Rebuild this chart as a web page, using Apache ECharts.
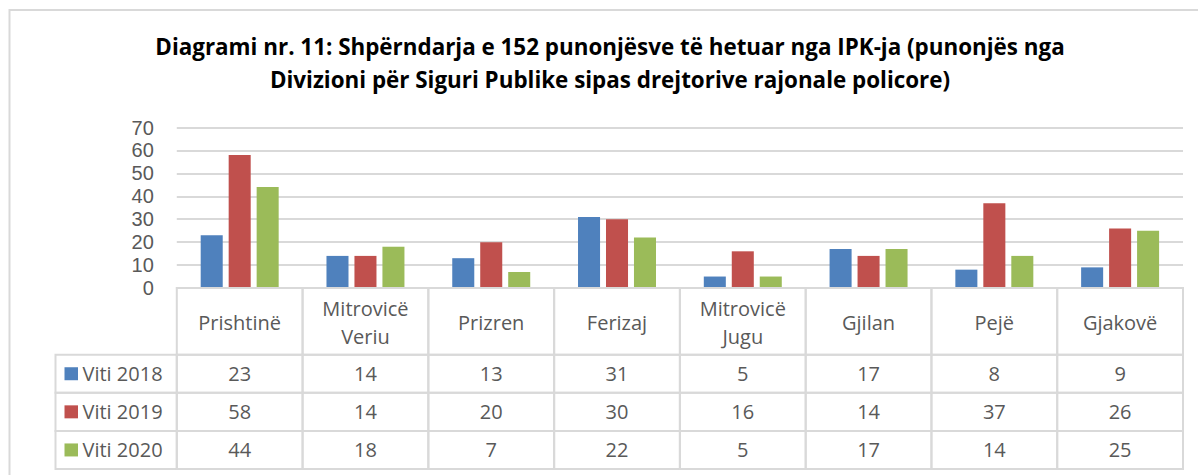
<!DOCTYPE html>
<html>
<head>
<meta charset="utf-8">
<script src="https://cdn.jsdelivr.net/npm/echarts@6/dist/echarts.min.js"></script>
<style>
html,body{margin:0;padding:0;background:#fff;}
#chart{width:1198px;height:475px;}
</style>
</head>
<body>
<div id="chart"></div>
<script>
// ---- data ----
const titleText = 'Diagrami nr. 11: Shpërndarja e 152 punonjësve të hetuar nga IPK-ja (punonjës nga\nDivizioni për Siguri Publike sipas drejtorive rajonale policore)';
const categories = ['Prishtinë', 'Mitrovicë\nVeriu', 'Prizren', 'Ferizaj', 'Mitrovicë\nJugu', 'Gjilan', 'Pejë', 'Gjakovë'];
const seriesNames = ['Viti 2018', 'Viti 2019', 'Viti 2020'];
const viti2018 = [23, 14, 13, 31, 5, 17, 8, 9];
const viti2019 = [58, 14, 20, 30, 16, 14, 37, 26];
const viti2020 = [44, 18, 7, 22, 5, 17, 14, 25];
const yMin = 0, yMax = 70, yStep = 10;

// ---- styling ----
const colors = ['#4F81BD', '#C0504D', '#9BBB59'];
const seriesValues = [viti2018, viti2019, viti2020];
const gridColor = '#D9D9D9';
const textColor = '#595959';
const FONT = '"Open Sans", "Noto Sans", sans-serif';

// layout
const plotLeft = 176.8, plotRight = 15, plotTop = 127.5, plotBottomY = 288;
const tableLeft = 55.5, tableBottomY = 469;
const headerUnits = 1.75; // header row height relative to data row
const legendColUnits = (plotLeft - tableLeft) / ((1198 - plotRight - plotLeft) / categories.length);

// table cells: [col, row]; col -1 = legend column, row 0 = header
const tableData = [];
categories.forEach((c, i) => tableData.push([i, 0]));
seriesNames.forEach((s, r) => {
  tableData.push([-1, r + 1]);
  categories.forEach((c, i) => tableData.push([i, r + 1]));
});

function renderCell(params, api) {
  const c = api.value(0), r = api.value(1);
  const x0 = c === -1 ? -0.5 - legendColUnits : c - 0.5;
  const x1 = c + 0.5;
  const y0 = r === 0 ? 0 : headerUnits + r - 1;
  const y1 = r === 0 ? headerUnits : headerUnits + r;
  const p0 = api.coord([x0, y0]);
  const p1 = api.coord([x1, y1]);
  const w = p1[0] - p0[0], h = p1[1] - p0[1];
  const cx = p0[0] + w / 2, cy = p0[1] + h / 2;
  const children = [{
    type: 'rect',
    shape: { x: p0[0], y: p0[1], width: w, height: h },
    style: { fill: 'none', stroke: gridColor, lineWidth: 2 }
  }];
  if (r === 0) {
    children.push({
      type: 'text',
      style: { text: categories[c], x: cx, y: cy + 1, align: 'center', verticalAlign: 'middle',
               fill: textColor, fontSize: 20, fontFamily: FONT, lineHeight: 28 }
    });
  } else if (c === -1) {
    children.push({
      type: 'rect',
      shape: { x: p0[0] + 9, y: cy - 6.5, width: 13.5, height: 13 },
      style: { fill: colors[r - 1] }
    });
    children.push({
      type: 'text',
      style: { text: seriesNames[r - 1], x: p0[0] + 27, y: cy, align: 'left', verticalAlign: 'middle',
               fill: textColor, fontSize: 20, fontFamily: FONT }
    });
  } else {
    children.push({
      type: 'text',
      style: { text: String(seriesValues[r - 1][c]), x: cx, y: cy, align: 'center', verticalAlign: 'middle',
               fill: textColor, fontSize: 20, fontFamily: FONT }
    });
  }
  return { type: 'group', children };
}

const chart = echarts.init(document.getElementById('chart'), null, { renderer: 'svg' });
chart.setOption({
  animation: false,
  backgroundColor: '#fff',
  title: {
    text: titleText,
    left: 610,
    top: 30,
    textAlign: 'center',
    padding: 0,
    textStyle: { fontFamily: FONT, fontWeight: 'bold', fontSize: 22.4, color: '#000', lineHeight: 33 }
  },
  graphic: [{
    type: 'rect',
    shape: { x: 9.5, y: 10, width: 1300, height: 600 },
    style: { fill: 'none', stroke: gridColor, lineWidth: 2 },
    silent: true, z: -10
  }],
  grid: [
    { left: plotLeft, right: plotRight, top: plotTop, bottom: 475 - plotBottomY },
    { left: tableLeft, right: plotRight, top: plotBottomY, bottom: 475 - tableBottomY }
  ],
  xAxis: [
    { type: 'category', gridIndex: 0, data: categories, boundaryGap: true,
      axisLine: { show: true, lineStyle: { color: gridColor, width: 2 } },
      axisTick: { show: false }, axisLabel: { show: false }, splitLine: { show: false } },
    { type: 'value', gridIndex: 1, min: -0.5 - legendColUnits, max: categories.length - 0.5, show: false }
  ],
  yAxis: [
    { type: 'value', gridIndex: 0, min: yMin, max: yMax, interval: yStep,
      axisLine: { show: false }, axisTick: { show: false },
      axisLabel: { color: textColor, fontSize: 20, fontFamily: '"Liberation Sans", Arial, sans-serif', margin: 23, lineHeight: 20 },
      splitLine: { show: true, lineStyle: { color: gridColor, width: 2 } } },
    { type: 'value', gridIndex: 1, min: 0, max: headerUnits + seriesNames.length, inverse: true, show: false }
  ],
  series: [
    ...seriesNames.map((name, i) => ({
      type: 'bar', name, xAxisIndex: 0, yAxisIndex: 0,
      data: seriesValues[i],
      barGap: '27%', barCategoryGap: '38%',
      itemStyle: { color: colors[i] },
      silent: true
    })),
    {
      type: 'custom', xAxisIndex: 1, yAxisIndex: 1, data: tableData,
      renderItem: renderCell, clip: false, silent: true, z: 5
    }
  ]
});
</script>
</body>
</html>
